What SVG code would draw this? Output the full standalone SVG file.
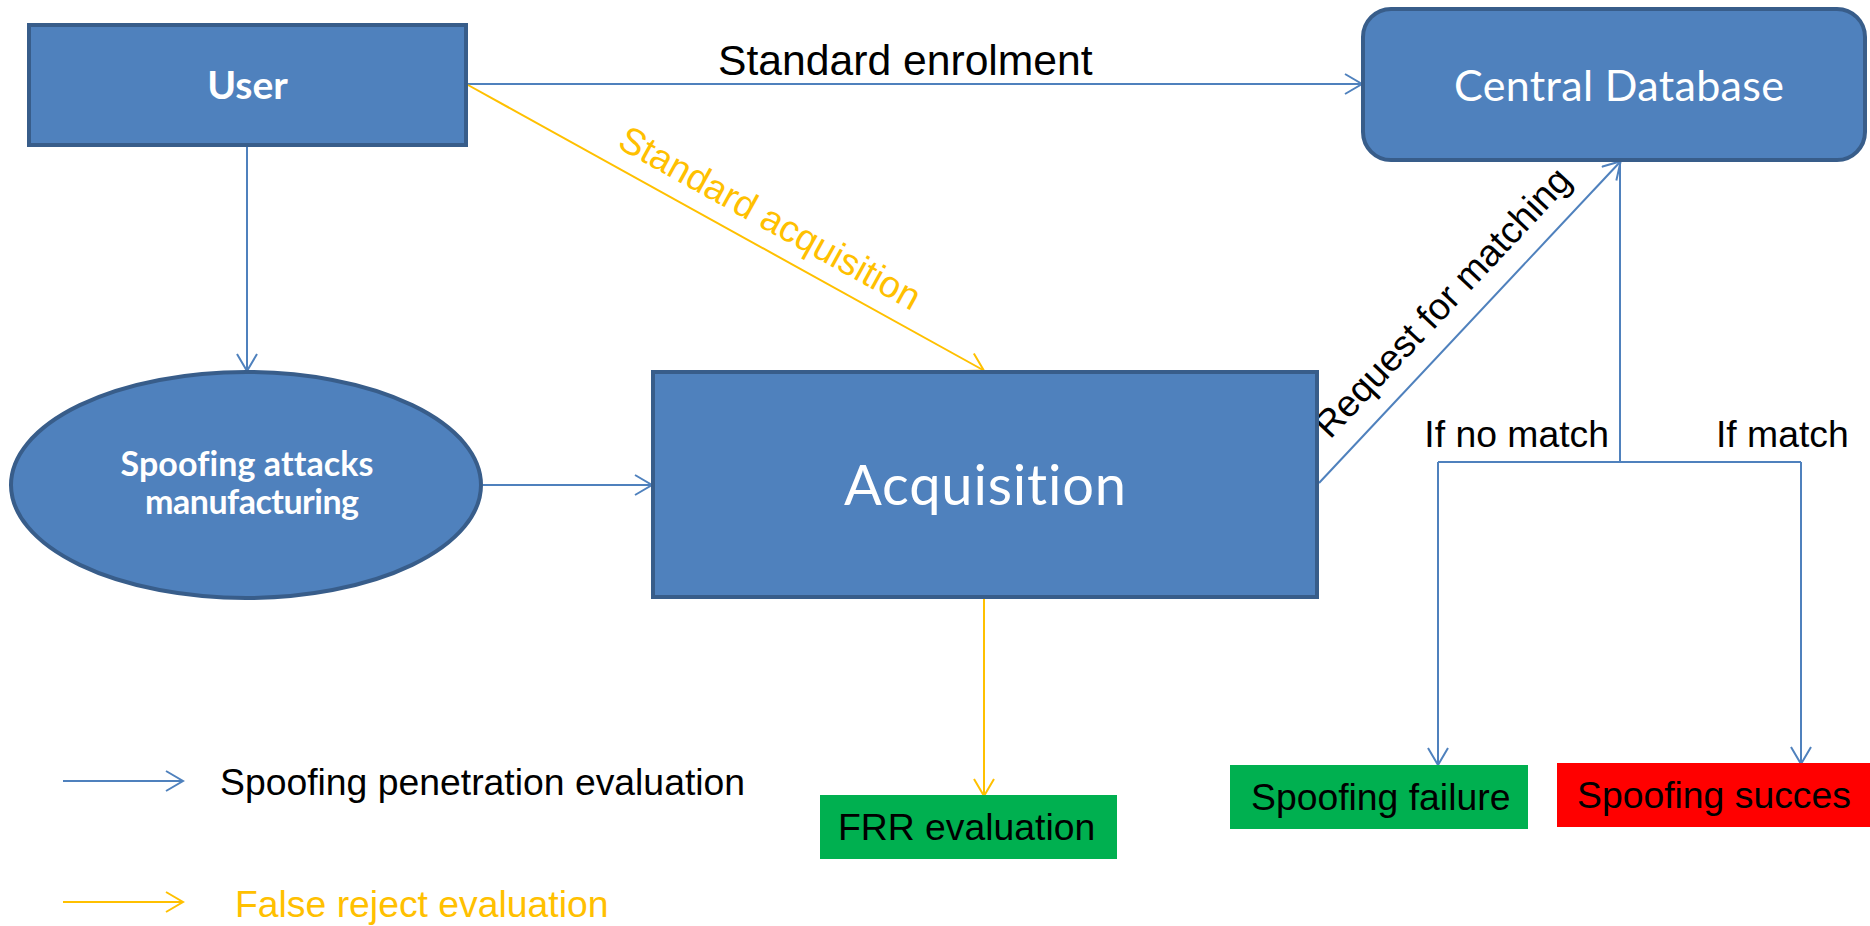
<svg xmlns="http://www.w3.org/2000/svg" width="1870" height="926" viewBox="0 0 1870 926">
  <style>
    .box { fill: #4F81BD; stroke: #385D8A; stroke-width: 4; }
    .lbl-white { fill: #FFFFFF; font-family: Lato, "Open Sans", sans-serif; text-anchor: middle; font-variant-ligatures: none; }
    .bold { font-weight: bold; }
    .arial { font-family: "Liberation Sans", Arial, sans-serif; font-size: 37.33px; fill: #000000; }
    .blue { stroke: #4F81BD; stroke-width: 2; fill: none; }
    .yellow { stroke: #FFC000; stroke-width: 2; fill: none; }
    .blue-end { marker-end: url(#arrow-blue); }
    .yellow-end { marker-end: url(#arrow-yellow); }
  </style>
  <defs>
    <marker id="arrow-blue" markerUnits="userSpaceOnUse" viewBox="0 0 20 22" refX="17" refY="11" markerWidth="20" markerHeight="22" orient="auto">
      <path d="M1,1 L18,11 L1,21" fill="none" stroke="#4F81BD" stroke-width="2"/>
    </marker>
    <marker id="arrow-yellow" markerUnits="userSpaceOnUse" viewBox="0 0 20 22" refX="17" refY="11" markerWidth="20" markerHeight="22" orient="auto">
      <path d="M1,1 L18,11 L1,21" fill="none" stroke="#FFC000" stroke-width="2"/>
    </marker>
  </defs>

  <rect width="1870" height="926" fill="#FFFFFF"/>

  <!-- connectors -->
  <g id="connectors">
    <line class="blue blue-end" x1="468" y1="84" x2="1361" y2="84"/>
    <line class="yellow yellow-end" x1="468" y1="85" x2="983" y2="370"/>
    <line class="blue blue-end" x1="247" y1="147" x2="247" y2="370"/>
    <line class="blue blue-end" x1="483" y1="485" x2="651" y2="485"/>
    <line class="blue blue-end" x1="1319" y1="483" x2="1620" y2="162"/>
    <polyline class="blue" points="1620,162 1620,462"/>
    <line class="blue" x1="1438" y1="462" x2="1801" y2="462"/>
    <line class="blue blue-end" x1="1438" y1="462" x2="1438" y2="764"/>
    <line class="blue blue-end" x1="1801" y1="462" x2="1801" y2="763"/>
    <line class="yellow yellow-end" x1="984" y1="599" x2="984" y2="795"/>

    <text class="arial" x="718" y="75" style="font-size:42.67px">Standard enrolment</text>
    <text class="arial" transform="translate(616,147) rotate(29)" style="fill:#FFC000">Standard acquisition</text>
    <text class="arial" transform="translate(1330,440) rotate(-46.7)">Request for matching</text>
    <text class="arial" x="1609" y="447" text-anchor="end">If no match</text>
    <text class="arial" x="1716" y="447">If match</text>
  </g>

  <!-- nodes -->
  <g id="user">
    <rect class="box" x="29" y="25" width="437" height="120"/>
    <text class="lbl-white bold" x="247.5" y="99" font-size="39">User</text>
  </g>

  <g id="central-database">
    <rect class="box" x="1363" y="9" width="502" height="151" rx="28" ry="28"/>
    <text class="lbl-white" x="1619" y="101" font-size="43" textLength="330">Central Database</text>
  </g>

  <g id="spoofing-manufacturing">
    <ellipse class="box" cx="246" cy="485" rx="235" ry="113"/>
    <text class="lbl-white bold" x="247" y="476" font-size="34" textLength="253">Spoofing attacks</text>
    <text class="lbl-white bold" x="252" y="514" font-size="34" textLength="214">manufacturing</text>
  </g>

  <g id="acquisition">
    <rect class="box" x="653" y="372" width="664" height="225"/>
    <text class="lbl-white" x="985" y="505" font-size="56" textLength="282">Acquisition</text>
  </g>

  <g id="frr-evaluation">
    <rect x="820" y="795" width="297" height="64" fill="#00B050"/>
    <text class="arial" x="838" y="840">FRR evaluation</text>
  </g>

  <g id="spoofing-failure">
    <rect x="1230" y="765" width="298" height="64" fill="#00B050"/>
    <text class="arial" x="1251" y="810">Spoofing failure</text>
  </g>

  <g id="spoofing-success">
    <rect x="1557" y="763" width="313" height="64" fill="#FF0000"/>
    <text class="arial" x="1577" y="808">Spoofing succes</text>
  </g>

  <!-- legend -->
  <g id="legend">
    <line class="blue blue-end" x1="63" y1="781" x2="182" y2="781"/>
    <text class="arial" x="220" y="795">Spoofing penetration evaluation</text>
    <line class="yellow yellow-end" x1="63" y1="902" x2="182" y2="902"/>
    <text class="arial" x="235" y="917" style="fill:#FFC000">False reject evaluation</text>
  </g>
</svg>
